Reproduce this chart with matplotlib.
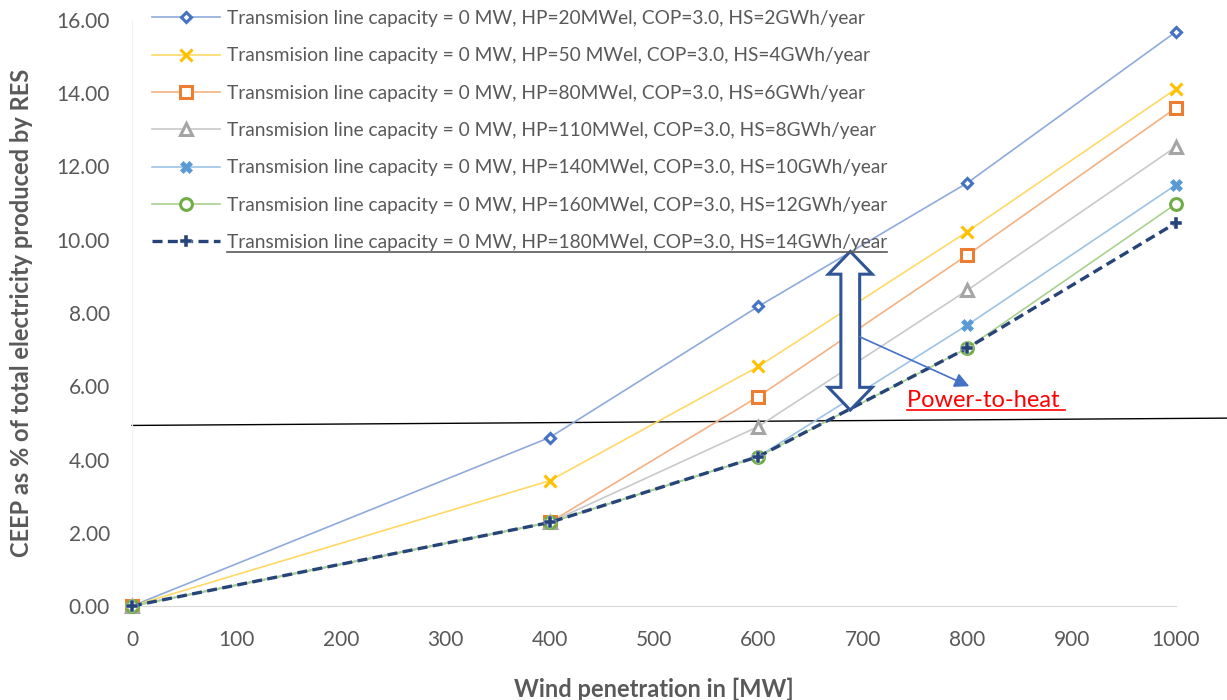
import matplotlib
matplotlib.use("Agg")
import matplotlib.pyplot as plt
from matplotlib.patches import Polygon
import numpy as np

plt.rcParams['font.family'] = ['Lato', 'DejaVu Sans']

# wind penetration [MW]
wind = [0, 400, 600, 800, 1000]

labels = [
    "Transmision line capacity = 0 MW, HP=20MWel, COP=3.0, HS=2GWh/year",
    "Transmision line capacity = 0 MW, HP=50 MWel, COP=3.0, HS=4GWh/year",
    "Transmision line capacity = 0 MW, HP=80MWel, COP=3.0, HS=6GWh/year",
    "Transmision line capacity = 0 MW, HP=110MWel, COP=3.0, HS=8GWh/year",
    "Transmision line capacity = 0 MW, HP=140MWel, COP=3.0, HS=10GWh/year",
    "Transmision line capacity = 0 MW, HP=160MWel, COP=3.0, HS=12GWh/year",
    "Transmision line capacity = 0 MW, HP=180MWel, COP=3.0, HS=14GWh/year",
]

# CEEP as % of total electricity produced by RES
hp20 = [0, 4.60, 8.18, 11.55, 15.68]
hp50 = [0, 3.42, 6.54, 10.22, 14.12]
hp80 = [0, 2.28, 5.72, 9.58, 13.60]
hp110 = [0, 2.28, 4.90, 8.62, 12.54]
hp140 = [0, 2.28, 4.08, 7.67, 11.50]
hp160 = [0, 2.28, 4.08, 7.04, 10.98]
hp180 = [0, 2.28, 4.08, 7.04, 10.46]
series = [hp20, hp50, hp80, hp110, hp140, hp160, hp180]

line_colors = ["#8faadc", "#ffd966", "#f4b183", "#c9c9c9", "#9dc3e6", "#a9d18e", "#264478"]
mark_colors = ["#4472c4", "#ffc000", "#ed7d31", "#a5a5a5", "#5b9bd5", "#70ad47", "#264478"]
markers = ["D", "x", "s", "^", "X", "o", "P"]

fig = plt.figure(figsize=(12.27, 7.0), dpi=100)
ax = fig.add_axes([132 / 1227, 1 - 606 / 700, (1176 - 132) / 1227, (606 - 20) / 700])

for i, ys in enumerate(series):
    if i == 6:
        ax.plot(wind, ys, color=line_colors[i], lw=2.4, ls=(0, (3, 1.6)),
                marker="P", ms=8, mfc=mark_colors[i], mec="white", mew=0.3,
                label=labels[i], clip_on=False, zorder=5)
    elif markers[i] == "x":
        ax.plot(wind, ys, color=line_colors[i], lw=1.2, marker="x", ms=8,
                mec=mark_colors[i], mew=2.2, label=labels[i], clip_on=False, zorder=3)
    elif markers[i] == "X":
        ax.plot(wind, ys, color=line_colors[i], lw=1.2, marker="X", ms=9,
                mfc=mark_colors[i], mec=mark_colors[i], mew=0.5, label=labels[i],
                clip_on=False, zorder=3)
    else:
        ms = 5.5 if markers[i] == "D" else 8.5
        ax.plot(wind, ys, color=line_colors[i], lw=1.2, marker=markers[i], ms=ms,
                mfc="white", mec=mark_colors[i], mew=2.2, label=labels[i],
                clip_on=False, zorder=3)

ax.set_xlim(0, 1000)
ax.set_ylim(0, 16)
ax.set_xticks(np.arange(0, 1001, 100))
ax.set_yticks(np.arange(0, 16.1, 2))
ax.set_yticklabels([f"{v:.2f}" for v in np.arange(0, 16.1, 2)])
ax.tick_params(length=0, labelsize=15, colors="#595959")
ax.tick_params(axis="y", pad=16)
ax.tick_params(axis="x", pad=17)
for s in ["top", "right"]:
    ax.spines[s].set_visible(False)
ax.spines["bottom"].set_color("#d9d9d9")
ax.spines["left"].set_color("#f2f2f2")

ax.set_xlabel("Wind penetration in [MW]", fontsize=17, fontweight="bold", color="#595959", labelpad=20)
ax.set_ylabel("CEEP as % of total electricity produced by RES", fontsize=17, fontweight="bold",
              color="#595959", labelpad=17)

leg = ax.legend(loc="upper left", bbox_to_anchor=(152 / 1227, 1 - 10 / 700),
                bbox_transform=fig.transFigure, frameon=False, fontsize=13.8,
                labelcolor="#595959", handlelength=3.55, handletextpad=0.36,
                labelspacing=1.06, borderpad=0, borderaxespad=0)

# black reference line around 5%
ax.plot([0, 1049], [4.93, 5.13], color="black", lw=1.0, clip_on=False, zorder=2)

# double block arrow
cx, top, bot = 688, 9.68, 5.35
hw, sw, hl = 21, 9, 0.62
pts = [(cx, top), (cx + hw, top - hl), (cx + sw, top - hl), (cx + sw, bot + hl),
       (cx + hw, bot + hl), (cx, bot), (cx - hw, bot + hl), (cx - sw, bot + hl),
       (cx - sw, top - hl), (cx - hw, top - hl)]
ax.add_patch(Polygon(pts, closed=True, fc="white", ec="#2f5597", lw=2.2, zorder=6))

ax.annotate("", xy=(802, 6.0), xytext=(697, 7.35),
            arrowprops=dict(arrowstyle="-|>", color="#4472c4", lw=1.2,
                            mutation_scale=22, shrinkA=0, shrinkB=0), zorder=7)

ptxt = ax.text(742, 5.62, "Power-to-heat ", fontsize=17, color="red", ha="left", va="center", zorder=7)

# underlines as in the reference
fig.canvas.draw()
rend = fig.canvas.get_renderer()
inv = fig.transFigure.inverted()
bb = leg.get_texts()[-1].get_window_extent(rend)
(x0, y0), (x1, _) = inv.transform([(bb.x0, bb.y0), (bb.x1, bb.y1)])
fig.add_artist(plt.Line2D([x0, x1], [y0 - 0.002, y0 - 0.002], color="#595959", lw=1.2))
bb = ptxt.get_window_extent(rend)
(x0, y0), (x1, _) = inv.transform([(bb.x0, bb.y0), (bb.x1, bb.y1)])
fig.add_artist(plt.Line2D([x0, x1], [y0 + 0.001, y0 + 0.001], color="red", lw=1.2))

fig.savefig("out.png", dpi=100)
